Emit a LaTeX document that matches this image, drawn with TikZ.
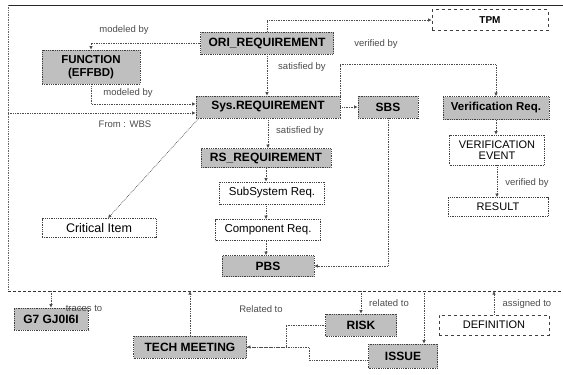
\documentclass[tikz,border=0pt]{standalone}
\usepackage{fontspec}
\setmainfont{Liberation Sans}
\usetikzlibrary{arrows.meta,calc}
\begin{document}
\begin{tikzpicture}[x=1pt,y=-1pt,
  box/.style={draw=black!75, densely dotted, line width=0.8pt, inner sep=1pt, align=center},
  graybox/.style={box, fill=black!25, font=\fontsize{12}{13}\selectfont\bfseries},
  whitebox/.style={box, fill=white, font=\fontsize{11.5}{12.5}\selectfont},
  conn/.style={draw=black!70, densely dotted, line width=0.7pt, -{Latex[length=3.5pt,width=3.5pt]}},
  lbl/.style={font=\fontsize{9.5}{11}\selectfont, text=black!70, inner sep=1pt}]
\useasboundingbox (0,0) rectangle (563,375);
% frame
\draw[line width=1pt, black!85] (8,5) -- (563,5);
\draw[black!60, densely dotted, line width=0.7pt] (8,5) -- (8,291);
\draw[black!80, densely dashed, line width=0.8pt] (8,291) -- (563,291);
\coordinate (fbot) at (0,291);
\coordinate (wbs) at (8,113);
% nodes
\node[graybox, minimum width=133pt, minimum height=22pt] (ori) at (267,43) {ORI\_REQUIREMENT};
\node[whitebox, dashed, minimum width=116pt, minimum height=21pt, font=\fontsize{10}{12}\selectfont\bfseries] (tpm) at (490,20) {TPM};
\node[graybox, minimum width=98pt, minimum height=34pt, font=\fontsize{11.5}{13}\selectfont\bfseries] (func) at (91,67) {FUNCTION\\(EFFBD)};
\node[graybox, minimum width=144pt, minimum height=22pt] (sys) at (268,107) {Sys.REQUIREMENT};
\node[graybox, minimum width=60pt, minimum height=22pt] (sbs) at (388,107) {SBS};
\node[graybox, minimum width=106pt, minimum height=23pt, font=\fontsize{11.5}{13}\selectfont\bfseries] (vreq) at (496,108) {Verification Req.};
\node[graybox, minimum width=130pt, minimum height=19pt] (rs) at (266,158) {RS\_REQUIREMENT};
\node[whitebox, minimum width=105pt, minimum height=22pt] (subs) at (272,193) {SubSystem Req.};
\node[whitebox, minimum width=105pt, minimum height=21pt] (comp) at (268,230) {Component Req.};
\node[graybox, minimum width=92pt, minimum height=21pt] (pbs) at (268,266) {PBS};
\node[whitebox, minimum width=114pt, minimum height=19pt, font=\fontsize{12.5}{13}\selectfont] (crit) at (99,228) {Critical Item};
\node[whitebox, minimum width=95pt, minimum height=30pt, font=\fontsize{11}{11.5}\selectfont] (vevent) at (497,150) {VERIFICATION\\EVENT};
\node[whitebox, minimum width=100pt, minimum height=19pt, font=\fontsize{11}{12}\selectfont] (result) at (498,207) {RESULT};
\node[graybox, minimum width=74pt, minimum height=22pt] (g7) at (51,319) {G7 GJ0I6I};
\node[graybox, minimum width=113pt, minimum height=22pt] (tech) at (190,347) {TECH MEETING};
\node[graybox, minimum width=71pt, minimum height=22pt] (risk) at (361,325) {RISK};
\node[graybox, minimum width=69pt, minimum height=24pt] (issue) at (403,356) {ISSUE};
\node[whitebox, dashed, minimum width=110pt, minimum height=20pt, font=\fontsize{11}{12}\selectfont] (defn) at (494,325) {DEFINITION};
% connectors
\draw[conn] (ori.west) -| (func.north);
\draw[conn] (ori.north) |- (tpm.west);
\draw[conn] (ori.south) -- (ori.south |- sys.north);
\draw[conn] (func.south) |- ([yshift=3pt]sys.west);
\draw[conn] (wbs) -- ([yshift=-6pt]sys.west);
\draw[conn] ([xshift=3pt]sys.south west) -- ([xshift=9pt]crit.north);
\draw[conn] (sys.east) -- (sbs.west);
\draw[conn] (sys.north east) -- ++(0,-31) -| (vreq.north);
\draw[conn] (sys.south) -- (sys.south |- rs.north);
\draw[conn] (rs.south) -- (rs.south |- subs.north);
\draw[conn] (rs.south |- subs.south) -- (rs.south |- comp.north);
\draw[conn] (rs.south |- comp.south) -- (rs.south |- pbs.north);
\draw[conn] (sbs.south) |- (pbs.east);
\draw[conn] (vreq.south) -- (vreq.south |- vevent.north);
\draw[conn] (vevent.south) -- (vevent.south |- result.north);
\draw[conn] (g7.north |- fbot) -- (g7.north);
\draw[conn] (tech.north) -- (tech.north |- fbot);
\draw[conn] (risk.north |- fbot) -- (risk.north);
\draw[conn] ([xshift=21pt]issue.north |- fbot) -- ([xshift=21pt]issue.north);
\draw[conn] (defn.north) -- (defn.north |- fbot);
\draw[conn, {Latex[length=3.5pt,width=3.5pt]}-] (tech.east) -- ++(39,0) |- (risk.west);
\draw[conn, -] (tech.east) -- ++(62,0) |- ([yshift=-4pt]issue.west);
% labels
\node[lbl] (l1) at (124,30) {modeled by};
\node[lbl] (l2) at (376,44) {verified by};
\node[lbl] (l3) at (302,67) {satisfied by};
\node[lbl] (l4) at (128,93) {modeled by};
\node[lbl] (l5) at (125,124) {From : WBS};
\node[lbl] (l6) at (300,131) {satisfied by};
\node[lbl] (l7) at (527,183) {verified by};
\node[lbl] (l8) at (84,308) {traces to};
\node[lbl] (l9) at (261,309) {Related to};
\node[lbl] (l10) at (389,303) {related to};
\node[lbl] (l11) at (527,304) {assigned to};
\end{tikzpicture}
\end{document}
